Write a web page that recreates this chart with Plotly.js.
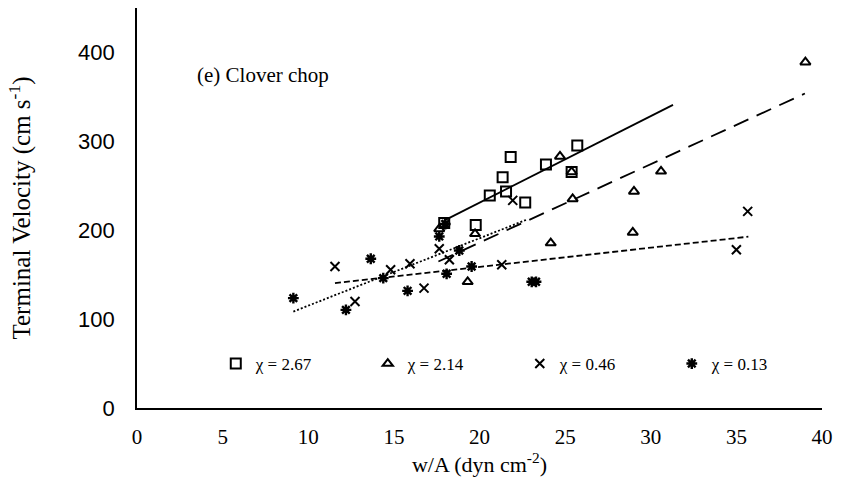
<!DOCTYPE html>
<html>
<head>
<meta charset="utf-8">
<script src="https://cdn.plot.ly/plotly-3.0.1.min.js"></script>
<style>
  html, body { margin: 0; padding: 0; background: #fff; }
  #chart { width: 843px; height: 479px; }
</style>
</head>
<body>
<div id="chart"></div>
<script>
// Terminal velocity against loading (w/A) for clover chop, four moisture levels
const seriesNames = ['χ = 2.67', 'χ = 2.14', 'χ = 0.46', 'χ = 0.13'];

// χ = 2.67
const sqX = [17.94, 19.78, 20.6, 21.35, 21.55, 21.82, 22.67, 23.88, 25.38, 25.71];
const sqY = [208, 206, 239, 259.5, 243.7, 282.5, 231.3, 273.8, 265.6, 295.2];

// χ = 2.14
const triX = [17.65, 19.74, 19.31, 24.16, 24.7, 25.38, 25.44, 30.6, 29.02, 28.95, 39.03];
const triY = [201.4, 196, 142, 185.6, 283, 265.6, 235.2, 266.3, 243.7, 197.5, 389];

// χ = 0.46
const crossX = [11.56, 12.73, 14.81, 15.94, 16.76, 17.65, 18.24, 21.3, 21.94, 35.0, 35.66];
const crossY = [159.2, 119.8, 155.5, 162.3, 134.9, 179.2, 166.8, 161.1, 233.6, 178, 221.2];

// χ = 0.13
const starX = [9.13, 12.2, 13.65, 14.38, 15.8, 17.65, 18.0, 18.08, 18.82, 19.54, 23.05, 23.3];
const starY = [123.6, 110.4, 167.9, 146.1, 131.8, 193, 207, 151, 177.2, 159.2, 142, 142];

// Linear trend lines (end points)
const trendSqX = [17.9, 31.3],   trendSqY = [210.5, 341];
const trendTriX = [17.6, 39.0],  trendTriY = [164.8, 353.8];
const trendCrossX = [11.56, 35.7], trendCrossY = [140.5, 192.7];
const trendStarX = [9.13, 22.75],  trendStarY = [108.5, 211.8];

const xTicks = [0, 5, 10, 15, 20, 25, 30, 35, 40];
const yTicks = [0, 100, 200, 300, 400];

const serif = 'Liberation Serif, Times New Roman, serif';
const sans = 'Liberation Sans, Arial, sans-serif';
const ink = '#000';

function pts(x, y, name, symbol, size, width) {
  return {
    x: x, y: y, name: name, type: 'scatter', mode: 'markers',
    marker: { symbol: symbol, size: size, color: ink, line: { color: ink, width: width } },
    showlegend: true, cliponaxis: false
  };
}
function trend(x, y, dash, width) {
  return {
    x: x, y: y, type: 'scatter', mode: 'lines', showlegend: false, hoverinfo: 'skip',
    line: { color: ink, width: width, dash: dash }
  };
}

const data = [
  trend(trendSqX, trendSqY, 'solid', 1.8),
  trend(trendTriX, trendTriY, '16px,9px', 1.8),
  trend(trendCrossX, trendCrossY, '6px,3px', 1.8),
  trend(trendStarX, trendStarY, '2px,2px', 1.8),
  pts(sqX, sqY, seriesNames[0], 'square-open', 10, 2),
  pts(triX, triY, seriesNames[1], 'triangle-up-open', 9, 2),
  pts(crossX, crossY, seriesNames[2], 'x-thin-open', 9, 2),
  pts(starX, starY, seriesNames[3], 'asterisk-open', 9, 2.4)
];

const layout = {
  width: 843, height: 479,
  margin: { l: 137, r: 21, t: 8, b: 71 },
  paper_bgcolor: '#fff', plot_bgcolor: '#fff',
  showlegend: true,
  legend: {
    orientation: 'h', x: 0.115, xanchor: 'left', y: 0.11, yanchor: 'middle',
    entrywidth: 107, entrywidthmode: 'pixels', itemwidth: 30,
    font: { family: serif, size: 17, color: ink },
    bgcolor: 'rgba(0,0,0,0)', traceorder: 'normal'
  },
  xaxis: {
    range: [0, 40], tickvals: xTicks, ticktext: xTicks.map(String),
    showgrid: false, zeroline: false, showline: true, linecolor: ink, linewidth: 1.8,
    ticks: '', ticklabelstandoff: 9,
    tickfont: { family: serif, size: 21, color: ink },
    title: { text: 'w/A (dyn cm<sup>-2</sup>)', font: { family: serif, size: 22, color: ink }, standoff: 4 }
  },
  yaxis: {
    range: [0, 450], tickvals: yTicks, ticktext: yTicks.map(String),
    showgrid: false, zeroline: false, showline: true, linecolor: ink, linewidth: 1.8,
    ticks: '', ticklabelstandoff: 16,
    tickfont: { family: sans, size: 22, color: ink },
    title: { text: 'Terminal Velocity (cm s<sup>-1</sup>)', font: { family: serif, size: 25, color: ink }, standoff: 40 }
  },
  annotations: [{
    text: '(e) Clover chop', xref: 'x', yref: 'y', x: 3.4, y: 375,
    xanchor: 'left', yanchor: 'middle', showarrow: false,
    font: { family: serif, size: 21, color: ink }
  }]
};

Plotly.newPlot('chart', data, layout, { staticPlot: true, displayModeBar: false });
</script>
</body>
</html>
